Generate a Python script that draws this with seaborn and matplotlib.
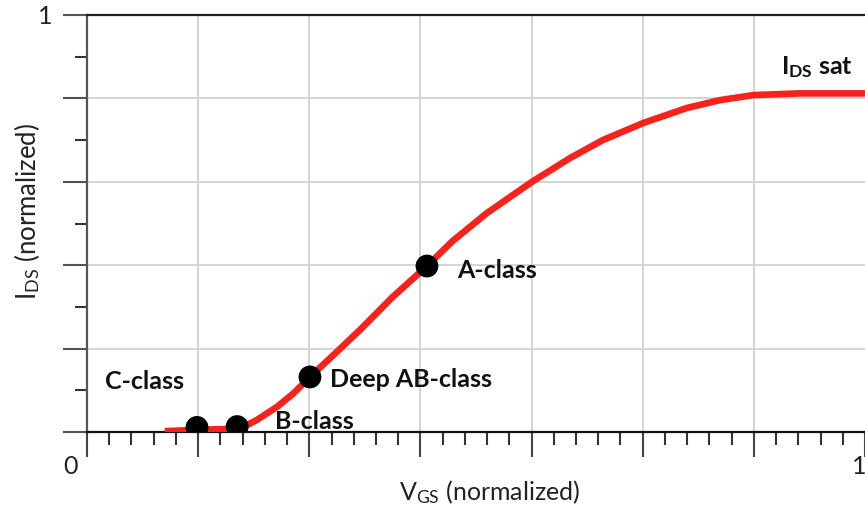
import matplotlib
matplotlib.use("Agg")
import matplotlib.pyplot as plt
import seaborn as sns
import pandas as pd
from matplotlib.ticker import FixedLocator, NullFormatter

# Transfer characteristic (normalized drain current vs gate voltage)
vgs = [0.100, 0.140, 0.177, 0.203, 0.2185, 0.244, 0.265, 0.2866, 0.321, 0.351,
       0.393, 0.437, 0.470, 0.514, 0.572, 0.621, 0.663, 0.715, 0.771, 0.814,
       0.857, 0.916, 1.000]
ids = [0.002, 0.005, 0.007, 0.014, 0.029, 0.060, 0.092, 0.132, 0.192, 0.245,
       0.324, 0.398, 0.458, 0.525, 0.600, 0.657, 0.700, 0.741, 0.777, 0.796,
       0.808, 0.812, 0.812]

# Bias points of the amplifier classes
class_names = ["C-class", "B-class", "Deep AB-class", "A-class"]
class_vgs = [0.1414, 0.193, 0.2866, 0.437]
class_ids = [0.011, 0.013, 0.132, 0.398]

# Label anchor positions (data coordinates)
label_text = ["C-class", "B-class", "Deep AB-class", "A-class", r"$\mathbf{I_{DS}}$ sat"]
label_x = [0.023, 0.2416, 0.3123, 0.4756, 0.892]
label_y = [0.120, 0.026, 0.127, 0.388, 0.875]

x_major = [i / 7 for i in range(8)]
x_minor = [j / 35 for j in range(36) if j % 5]
y_major = [0.0, 0.2, 0.4, 0.6, 0.8, 1.0]
y_minor = [0.1, 0.3, 0.5, 0.7, 0.9]

sns.set_theme(style="white")
plt.rcParams["font.family"] = ["Lato", "DejaVu Sans"]
plt.rcParams["mathtext.fontset"] = "custom"
plt.rcParams["mathtext.rm"] = "Lato"
plt.rcParams["mathtext.bf"] = "Lato:bold"
plt.rcParams["mathtext.it"] = "Lato:italic"

fig = plt.figure(figsize=(8.65, 5.09), dpi=100)
ax = fig.add_axes([87 / 865, 1 - 432 / 509, 1 - 87 / 865, (432 - 15) / 509])

curve = pd.DataFrame({"vgs": vgs, "ids": ids})
points = pd.DataFrame({"vgs": class_vgs, "ids": class_ids, "cls": class_names})

# light grid
for xv in x_major[1:-1]:
    ax.axvline(xv, color="#d4d4d4", lw=1.4, zorder=0)
for yv in y_major[1:-1]:
    ax.axhline(yv, color="#d4d4d4", lw=1.4, zorder=0)

sns.lineplot(data=curve, x="vgs", y="ids", ax=ax, color="#f5231c", lw=4.8,
             estimator=None, sort=False, zorder=3, solid_capstyle="butt",
             solid_joinstyle="round")
sns.scatterplot(data=points, x="vgs", y="ids", ax=ax, color="black", s=270,
                edgecolor="none", zorder=4, legend=False)

ax.set_xlim(0, 1)
ax.set_ylim(0, 1)
ax.set_xlabel("")
ax.set_ylabel("")

ax.spines["right"].set_visible(False)
ax.spines["left"].set_color("#555555")
ax.spines["left"].set_linewidth(1.6)
ax.spines["bottom"].set_color("#111111")
ax.spines["bottom"].set_linewidth(1.6)
ax.spines["top"].set_color("#222222")
ax.spines["top"].set_linewidth(1.6)

ax.xaxis.set_major_locator(FixedLocator(x_major))
ax.xaxis.set_minor_locator(FixedLocator(x_minor))
ax.yaxis.set_major_locator(FixedLocator(y_major))
ax.yaxis.set_minor_locator(FixedLocator(y_minor))
ax.xaxis.set_major_formatter(NullFormatter())
ax.yaxis.set_major_formatter(NullFormatter())
ax.tick_params(axis="x", which="major", direction="out", length=18, width=1.5,
               color="#444444", bottom=True)
ax.tick_params(axis="x", which="minor", direction="out", length=9, width=1.5,
               color="#333333", bottom=True)
ax.tick_params(axis="y", which="major", direction="out", length=17, width=1.5,
               color="#555555", left=True)
ax.tick_params(axis="y", which="minor", direction="out", length=8.5, width=1.5,
               color="#333333", left=True)

# axis end labels
fig.text(70 / 865, 1 - 467 / 509, "0", fontsize=18, ha="center", va="center", color="#222222")
fig.text(859 / 865, 1 - 467 / 509, "1", fontsize=18, ha="center", va="center", color="#222222")
fig.text(45 / 865, 1 - 17 / 509, "1", fontsize=18, ha="center", va="center", color="#222222")

# axis titles
fig.text(490 / 865, 1 - 492 / 509, r"V$_{\mathregular{GS}}$ (normalized)", fontsize=18,
         ha="center", va="center", color="#222222")
fig.text(27 / 865, 1 - 211 / 509, r"I$_{\mathregular{DS}}$ (normalized)", fontsize=18.5,
         ha="center", va="center", rotation=90, color="#222222")

for t, lx, ly in zip(label_text, label_x, label_y):
    ax.text(lx, ly, t, fontsize=18, fontweight="bold", ha="left", va="center",
            color="#111111", zorder=5)

fig.savefig("out.png", dpi=100)
